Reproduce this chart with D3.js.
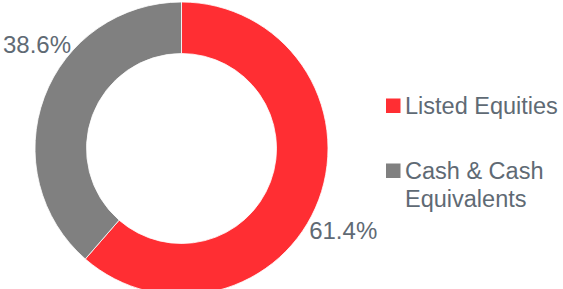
<!DOCTYPE html>
<html><head><meta charset="utf-8">
<script src="https://cdn.jsdelivr.net/npm/d3@7"></script>
<style>html,body{margin:0;padding:0;background:#fff;overflow:hidden}</style>
</head><body>
<svg id="c" width="563" height="289"></svg>
<script>
const categories = ["Listed Equities", "Cash & Cash Equivalents"];
const legendLines = [["Listed Equities"], ["Cash & Cash", "Equivalents"]];
const values = [61.4, 38.6];
const labels = ["61.4%", "38.6%"];
const colors = ["#ff2e33", "#808080"];

const svg = d3.select("#c");
const cx = 181.5, cy = 148.5, R = 146.5, r = 95;
const g = svg.append("g").attr("transform", `translate(${cx},${cy})`);
const pie = d3.pie().sort(null).value(d => d)(values);
const arc = d3.arc().innerRadius(r).outerRadius(R);
g.selectAll("path").data(pie).enter().append("path")
  .attr("d", arc).attr("fill", (d, i) => colors[i])
  .attr("stroke", "#fff").attr("stroke-width", 0.8);

// label placement: fraction along slice, radius, anchor
const labelPos = [
  {f: 0.567, rad: 156.5, anchor: "start"},
  {f: 0.646, rad: 146, anchor: "end"}
];
g.selectAll("text.lbl").data(pie).enter().append("text")
  .attr("class", "lbl")
  .each(function(d, i) {
    const p = labelPos[i];
    const a = d.startAngle + (d.endAngle - d.startAngle) * p.f;
    d3.select(this)
      .attr("x", p.rad * Math.sin(a))
      .attr("y", -p.rad * Math.cos(a))
      .attr("text-anchor", p.anchor);
  })
  .attr("font-family", "Liberation Sans, Arial, sans-serif")
  .attr("font-size", 24).attr("fill", "#5f6a74")
  .text((d, i) => labels[i]);

const lg = svg.append("g").attr("transform", "translate(386,98.5)");
const rowY = [0, 65];
categories.forEach((c, i) => {
  const row = lg.append("g").attr("transform", `translate(0,${rowY[i]})`);
  row.append("rect").attr("width", 14.5).attr("height", 14.5).attr("fill", colors[i]);
  const t = row.append("text").attr("font-family", "Liberation Sans, Arial, sans-serif")
    .attr("font-size", 23.5).attr("fill", "#5f6a74");
  legendLines[i].forEach((ln, j) => {
    t.append("tspan").attr("x", 19).attr("y", 15.3 + j * 28.4).text(ln);
  });
});
</script>
</body></html>
